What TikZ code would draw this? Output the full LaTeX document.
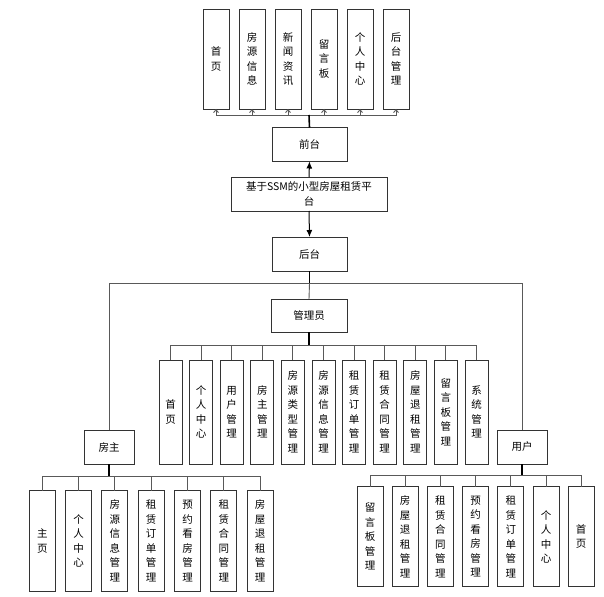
\documentclass[tikz,border=0pt]{standalone}
\usepackage{fontspec}
\newfontfamily\cjk{Noto Sans CJK SC}
\usetikzlibrary{positioning}
\usetikzlibrary{arrows.meta}
\tikzset{
	box/.style={draw=black!80, line width=0.9pt, fill=white, inner sep=1pt, outer sep=0pt, align=center, font=\cjk\fontsize{10.5}{14.5}\selectfont},
	head/.style={box, minimum width=75pt, minimum height=34pt},
	role/.style={box, minimum width=50pt, minimum height=34pt},
	% leaf boxes with vertical text
	leaf/.style={box, minimum width=26pt, minimum height=100pt},
	admleaf/.style={box, minimum width=23pt, minimum height=104pt},
	trunk/.style={draw=black, line width=1.6pt},
	bus/.style={draw=black!65, line width=0.9pt},
}

\begin{document}
\begin{tikzpicture}[x=1pt, y=-1pt]
		\useasboundingbox (0,0) rectangle (604,596);
		
		% front end
		\node (t1) [leaf] at (216,59) {首\\页};
		\node (t2) [leaf, right=10pt of t1] {房\\源\\信\\息};
		\node (t3) [leaf, right=10pt of t2] {新\\闻\\资\\讯};
		\node (t4) [leaf, right=10pt of t3] {留\\言\\板};
		\node (t5) [leaf, right=10pt of t4] {个\\人\\中\\心};
		\node (t6) [leaf, right=10pt of t5] {后\\台\\管\\理};
		
		\node (front) [head] at (309.5,144.5) {前台};
		\node (sys) [box, minimum width=156pt, minimum height=34pt] at (309,194) {基于SSM的小型房屋租赁平\\台};
		\node (back) [head] at (309.5,254) {后台};
		
		\node (adm) [head, minimum width=76pt, minimum height=33pt] at (309,315.5) {管理员};
		\node (owner) [role] at (109,447) {房主};
		\node (user) [role] at (522,447) {用户};
		
		% admin
		\node (a1) [admleaf] at (170.5,412) {首\\页};
		\node (a2) [admleaf, right=7.6pt of a1] {个\\人\\中\\心};
		\node (a3) [admleaf, right=7.6pt of a2] {用\\户\\管\\理};
		\node (a4) [admleaf, right=7.6pt of a3] {房\\主\\管\\理};
		\node (a5) [admleaf, right=7.6pt of a4] {房\\源\\类\\型\\管\\理};
		\node (a6) [admleaf, right=7.6pt of a5] {房\\源\\信\\息\\管\\理};
		\node (a7) [admleaf, right=7.6pt of a6] {租\\赁\\订\\单\\管\\理};
		\node (a8) [admleaf, right=7.6pt of a7] {租\\赁\\合\\同\\管\\理};
		\node (a9) [admleaf, right=7.6pt of a8] {房\\屋\\退\\租\\管\\理};
		\node (a10) [admleaf, right=7.6pt of a9] {留\\言\\板\\管\\理};
		\node (a11) [admleaf, right=7.6pt of a10] {系\\统\\管\\理};
		
		% owner
		\node (o1) [leaf, minimum height=101pt] at (42.3,541) {主\\页};
		\node (o2) [leaf, minimum height=101pt, right=10.3pt of o1] {个\\人\\中\\心};
		\node (o3) [leaf, minimum height=101pt, right=10.3pt of o2] {房\\源\\信\\息\\管\\理};
		\node (o4) [leaf, minimum height=101pt, right=10.3pt of o3] {租\\赁\\订\\单\\管\\理};
		\node (o5) [leaf, minimum height=101pt, right=10.3pt of o4] {预\\约\\看\\房\\管\\理};
		\node (o6) [leaf, minimum height=101pt, right=10.3pt of o5] {租\\赁\\合\\同\\管\\理};
		\node (o7) [leaf, minimum height=101pt, right=10.3pt of o6] {房\\屋\\退\\租\\管\\理};
		
		% user
		\node (u1) [leaf] at (370,536.7) {留\\言\\板\\管\\理};
		\node (u2) [leaf, right=9.2pt of u1] {房\\屋\\退\\租\\管\\理};
		\node (u3) [leaf, right=9.2pt of u2] {租\\赁\\合\\同\\管\\理};
		\node (u4) [leaf, right=9.2pt of u3] {预\\约\\看\\房\\管\\理};
		\node (u5) [leaf, right=9.2pt of u4] {租\\赁\\订\\单\\管\\理};
		\node (u6) [leaf, right=9.2pt of u5] {个\\人\\中\\心};
		\node (u7) [leaf, right=9.2pt of u6] {首\\页};
		
		% front end bus
		\coordinate (fbus) at (309,115);
		\foreach \n in {t1,t2,t3,t4,t5,t6}
			\draw[bus, -{Straight Barb[length=3pt, width=5pt]}] (fbus) -| (\n.south);
		\draw[trunk] (front.north) -- (fbus);
		
		\draw[-{Latex[length=7pt, width=6pt]}, line width=1pt] (sys.north) -- (front.south);
		\draw[-{Latex[length=7pt, width=6pt]}, line width=1pt] (sys.south) -- (back.south |- back.north);
		
		% back end
		\coordinate (bbus) at (309.5,283);
		\draw[bus] (bbus) -| (owner.north);
		\draw[bus] (bbus) -| (user.north);
		\draw[bus] (bbus) -- (adm.north);
		\draw[trunk] (back.south) -- (bbus);
		
		\coordinate (abus) at (309,345);
		\foreach \n in {a1,a2,a3,a4,a5,a6,a7,a8,a9,a10,a11}
			\draw[bus] (abus) -| (\n.north);
		\draw[trunk] (adm.south) -- (abus);
		
		\coordinate (obus) at (109,476);
		\foreach \n in {o1,o2,o3,o4,o5,o6,o7}
			\draw[bus] (obus) -| (\n.north);
		\draw[trunk] (owner.south) -- (obus);
		
		\coordinate (ubus) at (522,475);
		\foreach \n in {u1,u2,u3,u4,u5,u6,u7}
			\draw[bus] (ubus) -| (\n.north);
		\draw[trunk] (user.south) -- (ubus);
	\end{tikzpicture}
\end{document}
